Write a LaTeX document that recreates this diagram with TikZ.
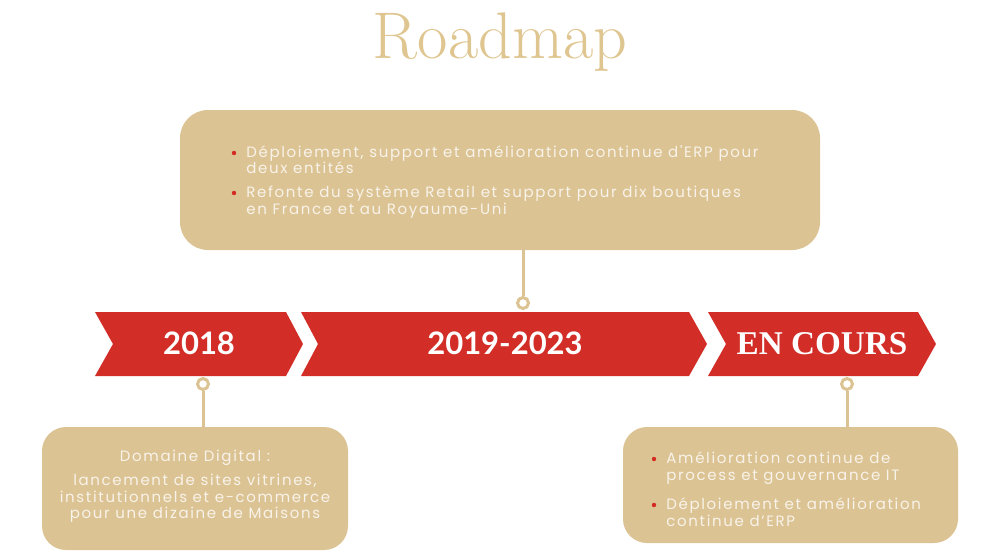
\documentclass[tikz,border=0pt]{standalone}
\usepackage{fontspec}
\newfontfamily\bodyf[LetterSpace=11]{Poppins}
\newfontfamily\yearf{Lato}
\newfontfamily\serifb{Liberation Serif}
\definecolor{gold}{HTML}{DCC393}
\definecolor{titlec}{HTML}{DFC58F}
\definecolor{chevred}{HTML}{D22D26}
\definecolor{textc}{HTML}{F8F3EA}
\definecolor{bulletc}{HTML}{D42A22}
\begin{document}
\begin{tikzpicture}[x=0.5pt,y=-0.5pt,
  box/.style={fill=gold, rounded corners=14pt, inner sep=0pt},
  chev/.style={fill=chevred},
  yearlbl/.style={anchor=base, text=white, font=\yearf\bfseries\fontsize{15.5}{15.5}\selectfont},
  courslbl/.style={anchor=base, text=white, font=\serifb\bfseries\fontsize{16.6}{16.6}\selectfont},
  pinc/.style={circle, draw=gold, line width=1.5pt, fill=white, minimum size=5.5pt, inner sep=0pt},
  conn/.style={draw=gold, line width=1.5pt},
  txt/.style={text=textc, inner sep=0pt, font=\bodyf\fontsize{7.5}{8}\selectfont},
  ltxt/.style={txt, anchor=base west},
  ctxt/.style={txt, anchor=base},
  bul/.style={circle, fill=bulletc, minimum size=2.2pt, inner sep=0pt}
]
\useasboundingbox (0,0) rectangle (1000,558);
% title
\node[anchor=base, text=titlec, font=\fontsize{33}{33}\selectfont] (title) at (500,58) {Roadmap};
% top box
\node[box, minimum width=320pt, minimum height=70pt] (topbox) at (500,180) {};
\node[bul] (b1) at (234,153) {};
\node[ltxt] (t1a) at (246,157) {Déploiement, support et amélioration continue d'ERP pour};
\node[ltxt] (t1b) at (246,173) {deux entités};
\node[bul] (b2) at (234,193) {};
\node[ltxt] (t2a) at (246,197) {Refonte du système Retail et support pour dix boutiques};
\node[ltxt] (t2b) at (246,214) {en France et au Royaume-Uni};
% chevrons
\fill[chev] (95,312) -- (286,312) -- (303,344) -- (286,376) -- (95,376) -- (113,344) -- cycle;
\fill[chev] (301,312) -- (689,312) -- (707,344) -- (689,376) -- (301,376) -- (318,344) -- cycle;
\fill[chev] (708,312) -- (918,312) -- (936,344) -- (918,376) -- (708,376) -- (726,344) -- cycle;
\node[yearlbl] (y1) at (199,354) {2018};
\node[yearlbl] (y2) at (505,354) {2019-2023};
\node[courslbl] (y3) at (822,354) {EN COURS};
% pins and connectors
\node[pinc] (c1) at (523,303) {};
\node[pinc] (c2) at (203,384) {};
\node[pinc] (c3) at (847,384) {};
\node[box, minimum width=153pt, minimum height=61.5pt, rounded corners=12pt] (lbox) at (195,488.5) {};
\node[box, minimum width=167.5pt, minimum height=58pt, rounded corners=12pt] (rbox) at (790.5,485) {};
\draw[conn] (c1 |- topbox.south) -- (c1.north);
\draw[conn] (c2.south) -- (c2 |- lbox.north);
\draw[conn] (c3.south) -- (c3 |- rbox.north);
% bottom left text
\node[ctxt] (l1) at (195,461) {Domaine Digital :};
\node[ctxt] (l2) at (195,485) {lancement de sites vitrines,};
\node[ctxt] (l3) at (195,502) {institutionnels et e-commerce};
\node[ctxt] (l4) at (195,518) {pour une dizaine de Maisons};
% bottom right text
\node[bul] (b3) at (654,459) {};
\node[ltxt] (r1a) at (666,463) {Amélioration continue de};
\node[ltxt] (r1b) at (666,480) {process et gouvernance IT};
\node[bul] (b4) at (654,505) {};
\node[ltxt] (r2a) at (666,509) {Déploiement et amélioration};
\node[ltxt] (r2b) at (666,526) {continue d’ERP};
\end{tikzpicture}
\end{document}
